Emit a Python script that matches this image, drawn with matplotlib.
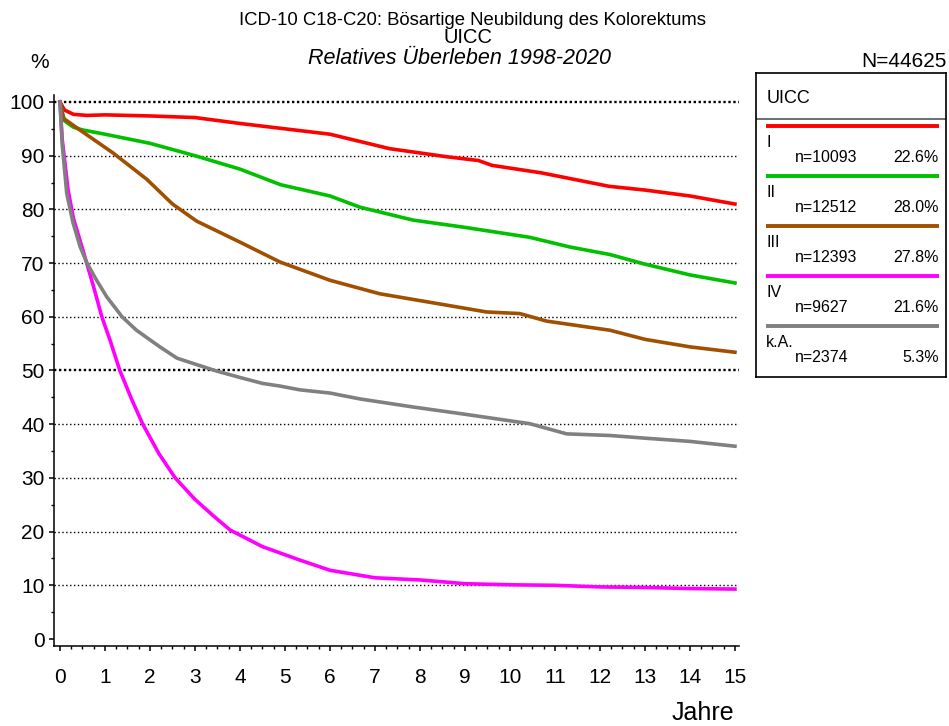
import numpy as np
import matplotlib.pyplot as plt
from matplotlib.ticker import MultipleLocator

plt.rcParams['font.family'] = ['Liberation Sans', 'DejaVu Sans']

# survival curves (years, percent)
t_1 = [0, 0.1, 0.3, 0.6, 1, 2, 3, 4, 4.9, 6, 7.33, 8.6, 9.3, 9.6, 10.7, 12.2, 13, 14, 15]
v_1 = [100, 98.5, 97.7, 97.5, 97.6, 97.4, 97.1, 96.0, 95.1, 94.0, 91.3, 89.8, 89.1, 88.2, 86.8, 84.3, 83.6, 82.5, 81.0]

t_2 = [0, 0.1, 0.3, 0.5, 1, 2, 3, 4, 4.9, 6, 6.67, 7.85, 8.96, 10.44, 11.33, 12.22, 13, 14, 15]
v_2 = [100, 96.5, 95.3, 94.8, 94.0, 92.3, 90.0, 87.5, 84.6, 82.5, 80.4, 78.0, 76.7, 74.8, 73.0, 71.6, 69.8, 67.8, 66.3]

t_3 = [0, 0.07, 0.44, 1.18, 1.93, 2.5, 3.04, 4, 4.89, 6, 7.1, 8.22, 9.48, 10.22, 10.81, 12.22, 13, 14, 15]
v_3 = [100, 97.0, 94.8, 90.5, 85.6, 81.0, 77.8, 73.9, 70.2, 66.8, 64.3, 62.7, 60.9, 60.6, 59.2, 57.5, 55.8, 54.4, 53.4]

t_4 = [0, 0.05, 0.18, 0.3, 0.51, 0.75, 0.93, 1.11, 1.33, 1.6, 1.84, 2.2, 2.56, 3, 3.4, 3.78,
       4.5, 5.33, 6, 7, 8, 9, 10, 11, 12, 13, 14, 15]
v_4 = [100, 93, 83.6, 78.3, 72.4, 65.5, 60, 55.7, 50, 44.5, 40, 34.5, 30, 26, 23, 20.3,
       17.2, 14.7, 12.8, 11.4, 11.0, 10.3, 10.1, 10.0, 9.7, 9.6, 9.4, 9.3]

t_ka = [0, 0.05, 0.15, 0.29, 0.45, 0.6, 0.8, 1.04, 1.38, 1.7, 2.22, 2.6, 3.0, 3.48, 4, 4.5,
        4.89, 5.33, 6, 6.67, 7.85, 8.96, 10.44, 11.26, 12.22, 13, 14, 15]
v_ka = [100, 92, 83, 77.5, 73, 70, 67, 63.7, 60, 57.5, 54.4, 52.3, 51.2, 49.9, 48.7, 47.6,
        47.1, 46.4, 45.8, 44.7, 43.2, 41.9, 40.1, 38.2, 37.9, 37.4, 36.8, 35.9]

groups = ['I', 'II', 'III', 'IV', 'k.A.']
counts = ['n=10093', 'n=12512', 'n=12393', 'n=9627', 'n=2374']
shares = ['22.6%', '28.0%', '27.8%', '21.6%', '5.3%']
colors = ['#ff0000', '#00c000', '#a05000', '#ff00ff', '#808080']
curves = [(t_1, v_1), (t_2, v_2), (t_3, v_3), (t_4, v_4), (t_ka, v_ka)]

W, H = 949, 726
fig = plt.figure(figsize=(W / 100, H / 100), dpi=100)
ax = fig.add_axes([54 / W, (H - 646) / H, (739 - 54) / W, (646 - 95) / H])

for y in range(10, 101, 10):
    if y in (50, 100):
        ax.axhline(y, color='black', lw=1.7, dashes=(1, 1.1), zorder=1)
    else:
        ax.axhline(y, color='black', lw=1.0, dashes=(1, 1.8), zorder=1)

for (t, v), c in zip(curves, colors):
    ax.plot(t, v, color=c, lw=2.6, zorder=3, solid_joinstyle='round')

ax.set_xlim(-0.133, 15.09)
ax.set_ylim(-1.3, 101.3)
ax.xaxis.set_major_locator(MultipleLocator(1))
ax.xaxis.set_minor_locator(MultipleLocator(0.25))
ax.yaxis.set_major_locator(MultipleLocator(10))
ax.yaxis.set_minor_locator(MultipleLocator(5))
ax.spines['top'].set_visible(False)
ax.spines['right'].set_visible(False)
for s in ('left', 'bottom'):
    ax.spines[s].set_linewidth(1.1)
ax.tick_params(which='major', length=3.8, width=1.1, labelsize=15)
ax.tick_params(which='minor', length=2.3, width=1.0)
ax.tick_params(axis='x', which='major', pad=12)
ax.tick_params(axis='y', which='major', pad=3)

# titles (positions in pixels from the top, baseline aligned)
def ftext(x, y, s, **kw):
    fig.text(x / W, 1 - y / H, s, va='baseline', **kw)

ftext(472.5, 25, 'ICD-10 C18-C20: Bösartige Neubildung des Kolorektums', ha='center', fontsize=13.3)
ftext(468, 43, 'UICC', ha='center', fontsize=14.5)
ftext(459.5, 64.5, 'Relatives Überleben 1998-2020', ha='center', fontsize=15.5, style='italic')
ftext(40, 68, '%', ha='center', fontsize=15)
ftext(947, 66.7, 'N=44625', ha='right', fontsize=15)
ftext(702.5, 720, 'Jahre', ha='center', fontsize=18)

# legend box in pixel coordinates
lg = fig.add_axes([756 / W, (H - 377) / H, (946 - 756) / W, (377 - 73) / H])
lg.set_xlim(756, 946)
lg.set_ylim(377, 73)
lg.set_xticks([])
lg.set_yticks([])
for s in lg.spines.values():
    s.set_linewidth(1.2)
lg.text(767, 103, 'UICC', va='baseline', ha='left', fontsize=13)
lg.plot([756, 946], [119, 119], color='#555555', lw=1.2)
for i, (g, n, p, c) in enumerate(zip(groups, counts, shares, colors)):
    y0 = 126 + i * 50
    lg.plot([766, 939], [y0, y0], color=c, lw=2.8, solid_capstyle='butt')
    lg.text(766, y0 + 21, g, va='baseline', ha='left', fontsize=11.5)
    lg.text(795, y0 + 36, n, va='baseline', ha='left', fontsize=11.5)
    lg.text(939, y0 + 36, p, va='baseline', ha='right', fontsize=11.5)

plt.savefig('out.png', dpi=100)
